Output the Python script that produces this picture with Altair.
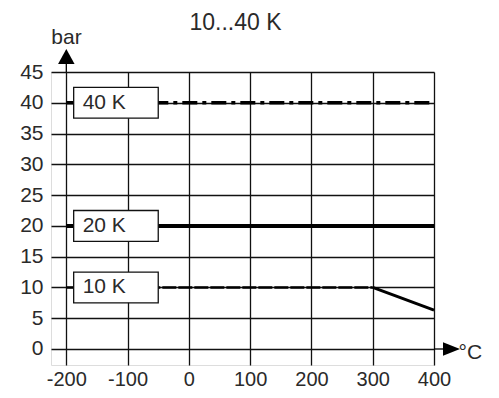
import altair as alt
import pandas as pd

# ---- data ----
title_text = ["10...40 K"]
series = ["40 K", "20 K", "10 K"]
levels = [40, 20, 10]

seg_names = ["40 K", "40 K", "20 K", "20 K", "10 K a", "10 K a", "10 K b", "10 K b"]
seg_temp = [-200, 400, -200, 400, -200, 300, 300, 400]
seg_bar = [40, 40, 20, 20, 10, 10, 10, 6.3]

x_ticks = [-200, -100, 0, 100, 200, 300, 400]
y_ticks = [0, 5, 10, 15, 20, 25, 30, 35, 40, 45]

# ---- styling / layout constants ----
FONT = "Liberation Sans"
TXT = "#2a2a2a"
FS = 21
W, H = 383, 293
X_DOM = [-225, 400]
Y_DOM = [-2.6, 45]
BOX_X0, BOX_X1, BOX_HALF = -188, -50, 2.5

seg_style = {
    "40 K": dict(strokeWidth=3.5, strokeDash=[15, 5, 4, 5]),
    "20 K": dict(strokeWidth=4),
    "10 K a": dict(strokeWidth=2.5, strokeDash=[14, 2]),
    "10 K b": dict(strokeWidth=3),
}

seg_df = pd.DataFrame({"seg": seg_names, "temp": seg_temp, "bar": seg_bar})
box_df = pd.DataFrame({"name": series, "level": levels})
box_df["x0"] = BOX_X0
box_df["x1"] = BOX_X1
box_df["lo"] = box_df["level"] - BOX_HALF
box_df["hi"] = box_df["level"] + BOX_HALF

xs = alt.Scale(domain=X_DOM, nice=False, zero=False)
ys = alt.Scale(domain=Y_DOM, nice=False, zero=False)

x_axis = alt.Axis(
    values=x_ticks, grid=True, gridColor="#111111", gridWidth=1.3, gridOpacity=1,
    domain=False, ticks=False, labelPadding=4, labelFontSize=20, labelFont=FONT,
    labelColor=TXT, labelExpr="datum.value + ''", labelOverlap=False,
    title="°C", titleX=407, titleY=-7, titleAlign="left",
    titleBaseline="alphabetic", titleFontWeight="normal", titleFontSize=FS,
    titleFont=FONT, titleColor=TXT, labelFlush=False,
)
y_axis = alt.Axis(
    values=y_ticks, grid=True, gridColor="#111111", gridWidth=1.3, gridOpacity=1,
    domain=False, ticks=False, labelPadding=8, labelFontSize=FS, labelFont=FONT,
    labelColor=TXT, labelOverlap=False, title="bar", titleAngle=0, titleX=15,
    titleY=-29, titleAlign="center", titleBaseline="alphabetic",
    titleFontWeight="normal", titleFontSize=FS, titleFont=FONT, titleColor=TXT,
    labelFlush=False,
)


def X(field):
    return alt.X(field, scale=xs, axis=x_axis)


def Y(field):
    return alt.Y(field, scale=ys, axis=y_axis)


base = alt.Chart(seg_df)

line_layers = []
for name in ["40 K", "20 K", "10 K a", "10 K b"]:
    line_layers.append(
        base.transform_filter(alt.datum.seg == name)
        .mark_line(color="black", strokeCap="butt", **seg_style[name])
        .encode(x=X("temp:Q"), y=Y("bar:Q"))
    )

boxes = alt.Chart(box_df).mark_rect(fill="white", stroke="#111111", strokeWidth=1.3).encode(
    x=X("x0:Q"), x2="x1:Q", y=Y("lo:Q"), y2="hi:Q",
)
labels = alt.Chart(box_df).mark_text(
    align="left", baseline="middle", dx=9, fontSize=FS, font=FONT, color=TXT
).encode(x=X("x0:Q"), y=Y("level:Q"), text="name:N")

arrow_df = pd.DataFrame({"x": [x_ticks[0]], "y": [y_ticks[-1]]})
y_arrow_rule = alt.Chart(arrow_df).mark_rule(color="black", strokeWidth=1.3).encode(
    x=X("x:Q"), y=Y("y:Q"), y2=alt.value(-8)
)
y_arrow_head = alt.Chart(arrow_df).mark_point(
    shape="M-1.1,1L0,-1L1.1,1Z", filled=True, color="black", opacity=1, size=225
).encode(x=X("x:Q"), y=alt.value(-15.5))

x_arrow_df = pd.DataFrame({"x": [x_ticks[-1]], "y": [y_ticks[0]]})
x_arrow_rule = alt.Chart(x_arrow_df).mark_rule(color="black", strokeWidth=1.3).encode(
    x=X("x:Q"), x2=alt.value(392), y=Y("y:Q")
)
x_arrow_head = alt.Chart(x_arrow_df).mark_point(
    shape="M-1,-0.8L1,0L-1,0.8Z", filled=True, color="black", opacity=1, size=289
).encode(x=alt.value(400.5), y=Y("y:Q"))

title_layer = alt.Chart(pd.DataFrame({"t": title_text})).mark_text(
    align="center", baseline="alphabetic", fontSize=23, font=FONT, color=TXT
).encode(x=alt.value(184.5), y=alt.value(-42), text="t:N")

chart = alt.layer(
    *line_layers, boxes, labels,
    y_arrow_rule, y_arrow_head, x_arrow_rule, x_arrow_head, title_layer,
).properties(
    width=W, height=H,
    autosize=alt.AutoSizeParams(type="none"),
    padding={"left": 43, "top": 64, "right": 57, "bottom": 25},
).configure_view(stroke=None).configure(background="white")

chart.save("out.html", embed_options={"renderer": "svg", "actions": False})
